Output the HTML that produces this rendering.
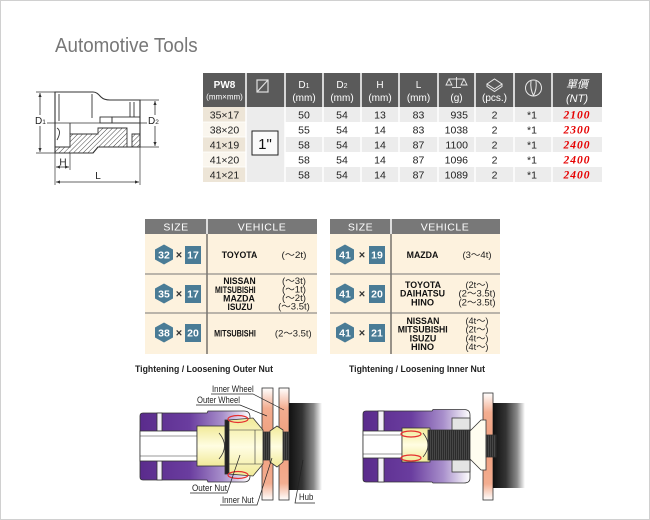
<!DOCTYPE html>
<html><head><meta charset="utf-8"><style>
html,body{margin:0;padding:0;background:#fff;}
body{width:650px;height:520px;overflow:hidden;position:relative;}
svg{position:absolute;left:0;top:0;}
text{font-family:"Liberation Sans","Noto Sans CJK JP",sans-serif;}
.hd{fill:#fff;font-size:10px;text-anchor:middle;}
.hs{fill:#fff;font-size:8px;text-anchor:middle;}
.td{fill:#222;font-size:10.5px;text-anchor:middle;}
.pr{fill:#e60000;font-family:"Liberation Serif",serif;font-weight:bold;font-style:italic;font-size:11.5px;text-anchor:middle;letter-spacing:1px;}
.vh{fill:#111;font-weight:bold;font-size:9.3px;text-anchor:middle;}
.tn{fill:#222;font-size:9px;text-anchor:middle;}
.bd{fill:#fff;font-weight:bold;font-size:10.5px;text-anchor:middle;}
.lb{fill:#222;font-size:9.5px;}
</style></head><body>
<svg width="650" height="520" viewBox="0 0 650 520" xmlns="http://www.w3.org/2000/svg">
<defs>
 <pattern id="hatch" patternUnits="userSpaceOnUse" width="3.4" height="3.4" patternTransform="rotate(45)">
  <line x1="0" y1="0" x2="0" y2="3.4" stroke="#333" stroke-width="0.9"/>
 </pattern>
 <pattern id="thr" patternUnits="userSpaceOnUse" width="2" height="4">
  <rect width="2" height="4" fill="#2b2b2b"/>
  <line x1="0.5" y1="0" x2="0.5" y2="4" stroke="#5a5a5a" stroke-width="0.6"/>
 </pattern>
 <linearGradient id="pur" x1="0" y1="0" x2="1" y2="0">
  <stop offset="0" stop-color="#5a2b8c"/><stop offset="0.45" stop-color="#6a3d9f"/>
  <stop offset="0.75" stop-color="#a88fcb"/><stop offset="1" stop-color="#ffffff"/>
 </linearGradient>
 <linearGradient id="yel" x1="0" y1="0" x2="0" y2="1">
  <stop offset="0" stop-color="#f1ea98"/><stop offset="0.5" stop-color="#fffde2"/><stop offset="1" stop-color="#f1ea98"/>
 </linearGradient>
 <linearGradient id="sal" x1="0" y1="0" x2="0" y2="1">
  <stop offset="0" stop-color="#ffffff"/><stop offset="0.18" stop-color="#f3ad90"/>
  <stop offset="0.5" stop-color="#ef9d7b"/><stop offset="0.85" stop-color="#f3ad90"/><stop offset="1" stop-color="#ffffff"/>
 </linearGradient>
 <linearGradient id="hub" x1="0" y1="0" x2="1" y2="0">
  <stop offset="0" stop-color="#111"/><stop offset="0.4" stop-color="#333"/>
  <stop offset="0.75" stop-color="#8a8a8a"/><stop offset="1" stop-color="#fff"/>
 </linearGradient>
 <marker id="ar" viewBox="0 0 10 10" refX="10" refY="5" markerWidth="5" markerHeight="5" orient="auto-start-reverse">
  <path d="M0,1 L10,5 L0,9 Z" fill="#333"/>
 </marker>
</defs>

<!-- page border -->
<rect x="0.5" y="0.5" width="649" height="519" fill="none" stroke="#d0d0d0" stroke-width="1"/>

<!-- title -->
<text x="55" y="52" font-size="20" fill="#777" transform="translate(55 0) scale(0.94 1) translate(-55 0)">Automotive Tools</text>

<!-- ===== socket drawing ===== -->
<g stroke="#333" stroke-width="0.9" fill="none">
 <path d="M55,147 L70,147 L70,134 L98,134 L98,128 L127,128 L127,147 L98,147 L93,153 L55,153 Z" fill="url(#hatch)"/>
 <path d="M132,134 L140,134 L140,147 L132,147 Z" fill="url(#hatch)"/>
 <path d="M55,92 L93,92 C97,92 99,95 101,97 C103,99 106,100 110,100 L140,100 L140,147 L98,147 L93,153 L55,153 Z" fill="none" stroke-width="1.1"/>
 <line x1="59" y1="94" x2="59" y2="121"/>
 <line x1="92" y1="94" x2="92" y2="118"/>
 <line x1="130" y1="102" x2="130" y2="117"/>
 <line x1="134" y1="102" x2="134" y2="117"/>
 <rect x="100" y="117" width="12" height="6"/>
 <rect x="112" y="117" width="28" height="6"/>
 <line x1="70" y1="123" x2="70" y2="134"/>
 <path d="M57,128 Q62,131 57,140"/>
 <line x1="46" y1="123" x2="154" y2="123" stroke-width="0.8"/>
 <!-- D1 -->
 <line x1="36" y1="92" x2="55" y2="92" stroke-width="0.7"/>
 <line x1="36" y1="153" x2="55" y2="153" stroke-width="0.7"/>
 <line x1="40" y1="93" x2="40" y2="152" stroke-width="0.8" marker-start="url(#ar)" marker-end="url(#ar)"/>
 <!-- D2 -->
 <line x1="140" y1="100" x2="159" y2="100" stroke-width="0.7"/>
 <line x1="140" y1="147" x2="159" y2="147" stroke-width="0.7"/>
 <line x1="155" y1="101" x2="155" y2="146" stroke-width="0.8" marker-start="url(#ar)" marker-end="url(#ar)"/>
 <!-- H, L -->
 <line x1="55" y1="153" x2="55" y2="185" stroke-width="0.7"/>
 <line x1="70" y1="153" x2="70" y2="170" stroke-width="0.7"/>
 <line x1="140" y1="147" x2="140" y2="185" stroke-width="0.7"/>
 <line x1="56" y1="167" x2="69" y2="167" stroke-width="0.8" marker-start="url(#ar)" marker-end="url(#ar)"/>
 <line x1="56" y1="182" x2="139" y2="182" stroke-width="0.8" marker-start="url(#ar)" marker-end="url(#ar)"/>
</g>
<rect x="34" y="115" width="13" height="11" fill="#fff"/>
<text x="35" y="124" font-size="10" fill="#222">D<tspan font-size="6.5">1</tspan></text>
<rect x="147" y="115" width="13" height="11" fill="#fff"/>
<text x="148" y="124" font-size="10" fill="#222">D<tspan font-size="6.5">2</tspan></text>
<text x="63" y="165.5" font-size="10" fill="#222" text-anchor="middle">H</text>
<text x="98" y="179" font-size="10" fill="#222" text-anchor="middle">L</text>

<!-- ===== top table ===== -->
<rect x="203" y="73" width="399" height="34" fill="#5a5a5a"/>
<rect x="203" y="107" width="399" height="15" fill="#ececec"/>
<rect x="203" y="137" width="399" height="15" fill="#ececec"/>
<rect x="203" y="167" width="399" height="15" fill="#ececec"/>
<rect x="203" y="107" width="43" height="15" fill="#ede5d7"/>
<rect x="203" y="122" width="43" height="15" fill="#faf6ee"/>
<rect x="203" y="137" width="43" height="15" fill="#ede5d7"/>
<rect x="203" y="152" width="43" height="15" fill="#faf6ee"/>
<rect x="203" y="167" width="43" height="15" fill="#ede5d7"/>
<rect x="246" y="107" width="39" height="75" fill="#ececec"/>
<g stroke="#fff" stroke-width="1.5">
 <line x1="246" y1="73" x2="246" y2="182"/><line x1="285" y1="73" x2="285" y2="182"/>
 <line x1="323" y1="73" x2="323" y2="182"/><line x1="361" y1="73" x2="361" y2="182"/>
 <line x1="399" y1="73" x2="399" y2="182"/><line x1="438" y1="73" x2="438" y2="182"/>
 <line x1="475" y1="73" x2="475" y2="182"/><line x1="514" y1="73" x2="514" y2="182"/>
 <line x1="552" y1="73" x2="552" y2="182"/>
</g>
<g stroke="#fff" stroke-width="0.8">
 <line x1="203" y1="122" x2="246" y2="122"/><line x1="203" y1="137" x2="246" y2="137"/>
 <line x1="203" y1="152" x2="246" y2="152"/><line x1="203" y1="167" x2="246" y2="167"/>
</g>
<!-- header -->
<text class="hd" x="224.5" y="88" font-weight="bold">PW8</text>
<text class="hs" x="224.5" y="99.5">(mm×mm)</text>
<g fill="none" stroke="#e0e0e0" stroke-width="1.2">
 <rect x="257" y="80" width="11" height="12"/>
 <line x1="257" y1="92" x2="268" y2="80"/>
</g>
<text class="hd" x="304" y="88">D<tspan font-size="7">1</tspan></text><text class="hd" x="304" y="101">(mm)</text>
<text class="hd" x="342" y="88">D<tspan font-size="7">2</tspan></text><text class="hd" x="342" y="101">(mm)</text>
<text class="hd" x="380" y="88">H</text><text class="hd" x="380" y="101">(mm)</text>
<text class="hd" x="418.5" y="88">L</text><text class="hd" x="418.5" y="101">(mm)</text>
<g fill="none" stroke="#e8e8e8" stroke-width="0.9">
 <line x1="449" y1="79" x2="464" y2="79"/><line x1="456.5" y1="77" x2="456.5" y2="87"/>
 <line x1="452" y1="87.5" x2="461" y2="87.5"/>
 <path d="M449,79 L446,85 L452,85 Z"/><path d="M464,79 L461,85 L467,85 Z"/>
</g>
<text class="hd" x="456.5" y="101">(g)</text>
<g fill="none" stroke="#e8e8e8" stroke-width="1">
 <path d="M487,84 L494.5,79 L502,84 L494.5,89 Z"/>
 <path d="M487,84 L487,86.5 L494.5,91.5 L502,86.5 L502,84"/>
</g>
<text class="hd" x="494.5" y="101">(pcs.)</text>
<g fill="none" stroke="#e8e8e8" stroke-width="1">
 <circle cx="533.5" cy="88" r="8"/>
 <path d="M531,81 Q530,89 533.5,95.5 Q537,89 536,81"/>
</g>
<text x="577" y="88" fill="#fff" font-size="11" text-anchor="middle" font-style="italic" font-family="'Liberation Serif','Noto Serif CJK SC',serif">單價</text>
<text x="577" y="102" fill="#fff" font-size="11" text-anchor="middle" font-style="italic" font-family="'Liberation Serif',serif">(NT)</text>
<!-- body -->
<rect x="252" y="131" width="26" height="24" fill="#fafafa" stroke="#222" stroke-width="1"/>
<text x="265" y="149" font-size="15" fill="#111" text-anchor="middle">1"</text>

<text class="td" x="224.5" y="118.5">35×17</text>
<text class="td" x="224.5" y="133.5">38×20</text>
<text class="td" x="224.5" y="148.5">41×19</text>
<text class="td" x="224.5" y="163.5">41×20</text>
<text class="td" x="224.5" y="178.5">41×21</text>

<text class="td" x="304" y="118.5">50</text><text class="td" x="342" y="118.5">54</text><text class="td" x="380" y="118.5">13</text><text class="td" x="418.5" y="118.5">83</text>
<text class="td" x="304" y="133.5">55</text><text class="td" x="342" y="133.5">54</text><text class="td" x="380" y="133.5">14</text><text class="td" x="418.5" y="133.5">83</text>
<text class="td" x="304" y="148.5">58</text><text class="td" x="342" y="148.5">54</text><text class="td" x="380" y="148.5">14</text><text class="td" x="418.5" y="148.5">87</text>
<text class="td" x="304" y="163.5">58</text><text class="td" x="342" y="163.5">54</text><text class="td" x="380" y="163.5">14</text><text class="td" x="418.5" y="163.5">87</text>
<text class="td" x="304" y="178.5">58</text><text class="td" x="342" y="178.5">54</text><text class="td" x="380" y="178.5">14</text><text class="td" x="418.5" y="178.5">87</text>

<text class="td" x="468" y="118.5" style="text-anchor:end">935</text>
<text class="td" x="468" y="133.5" style="text-anchor:end">1038</text>
<text class="td" x="468" y="148.5" style="text-anchor:end">1100</text>
<text class="td" x="468" y="163.5" style="text-anchor:end">1096</text>
<text class="td" x="468" y="178.5" style="text-anchor:end">1089</text>
<text class="td" x="494.5" y="118.5">2</text><text class="td" x="494.5" y="133.5">2</text><text class="td" x="494.5" y="148.5">2</text><text class="td" x="494.5" y="163.5">2</text><text class="td" x="494.5" y="178.5">2</text>
<text class="td" x="532" y="118.5">*1</text><text class="td" x="532" y="133.5">*1</text><text class="td" x="532" y="148.5">*1</text><text class="td" x="532" y="163.5">*1</text><text class="td" x="532" y="178.5">*1</text>
<text class="pr" x="577" y="118.5">2100</text>
<text class="pr" x="577" y="133.5">2300</text>
<text class="pr" x="577" y="148.5">2400</text>
<text class="pr" x="577" y="163.5">2400</text>
<text class="pr" x="577" y="178.5">2400</text>

<!-- ===== size tables ===== -->
<rect x="145" y="219" width="172" height="15" fill="#787878"/>
<rect x="145" y="234" width="172" height="120" fill="#fdf2de"/>
<line x1="207" y1="219" x2="207" y2="234" stroke="#fff" stroke-width="1.5"/>
<line x1="207" y1="234" x2="207" y2="354" stroke="#333" stroke-width="1"/>
<line x1="145" y1="274" x2="317" y2="274" stroke="#777" stroke-width="1"/>
<line x1="145" y1="313" x2="317" y2="313" stroke="#777" stroke-width="1"/>
<text x="176" y="230.5" fill="#fff" font-size="10.5" text-anchor="middle" letter-spacing="0.5">SIZE</text>
<text x="262" y="230.5" fill="#fff" font-size="10.5" text-anchor="middle" letter-spacing="0.5">VEHICLE</text>

<rect x="330" y="219" width="170" height="15" fill="#787878"/>
<rect x="330" y="234" width="170" height="120" fill="#fdf2de"/>
<line x1="391" y1="219" x2="391" y2="234" stroke="#fff" stroke-width="1.5"/>
<line x1="391" y1="234" x2="391" y2="354" stroke="#333" stroke-width="1"/>
<line x1="330" y1="274" x2="500" y2="274" stroke="#777" stroke-width="1"/>
<line x1="330" y1="313" x2="500" y2="313" stroke="#777" stroke-width="1"/>
<text x="360.5" y="230.5" fill="#fff" font-size="10.5" text-anchor="middle" letter-spacing="0.5">SIZE</text>
<text x="445" y="230.5" fill="#fff" font-size="10.5" text-anchor="middle" letter-spacing="0.5">VEHICLE</text>

<!-- badges -->
<g fill="#4a7c96">
 <polygon points="164,244.5 173,249.5 173,259.5 164,264.5 155,259.5 155,249.5"/>
 <rect x="185" y="246" width="16" height="18"/>
 <polygon points="164,283.5 173,288.5 173,298.5 164,303.5 155,298.5 155,288.5"/>
 <rect x="185" y="285" width="16" height="18"/>
 <polygon points="164,322.5 173,327.5 173,337.5 164,342.5 155,337.5 155,327.5"/>
 <rect x="185" y="324" width="16" height="18"/>
 <polygon points="345,244.5 354,249.5 354,259.5 345,264.5 336,259.5 336,249.5"/>
 <rect x="369" y="246" width="16" height="18"/>
 <polygon points="345,283.5 354,288.5 354,298.5 345,303.5 336,298.5 336,288.5"/>
 <rect x="369" y="285" width="16" height="18"/>
 <polygon points="345,322.5 354,327.5 354,337.5 345,342.5 336,337.5 336,327.5"/>
 <rect x="369" y="324" width="16" height="18"/>
</g>
<text class="bd" x="164" y="258.5">32</text><text class="bd" x="193" y="258.5">17</text>
<text class="bd" x="164" y="297.5">35</text><text class="bd" x="193" y="297.5">17</text>
<text class="bd" x="164" y="336.5">38</text><text class="bd" x="193" y="336.5">20</text>
<text class="bd" x="345" y="258.5">41</text><text class="bd" x="377" y="258.5">19</text>
<text class="bd" x="345" y="297.5">41</text><text class="bd" x="377" y="297.5">20</text>
<text class="bd" x="345" y="336.5">41</text><text class="bd" x="377" y="336.5">21</text>
<g fill="#333" font-size="11" font-weight="bold" text-anchor="middle">
 <text x="179" y="258.5">×</text><text x="179" y="297.5">×</text><text x="179" y="336.5">×</text>
 <text x="362" y="258.5">×</text><text x="362" y="297.5">×</text><text x="362" y="336.5">×</text>
</g>

<!-- vehicles left -->
<text class="vh" x="239.5" y="258" textLength="35.6" lengthAdjust="spacingAndGlyphs">TOYOTA</text>
<text class="tn" x="294" y="258" textLength="25" lengthAdjust="spacingAndGlyphs">(～2t)</text>
<text class="vh" x="239.5" y="284" textLength="32.3" lengthAdjust="spacingAndGlyphs">NISSAN</text>
<text class="vh" x="235.3" y="293" textLength="40.7" lengthAdjust="spacingAndGlyphs">MITSUBISHI</text>
<text class="vh" x="239" y="301.5" textLength="31.7" lengthAdjust="spacingAndGlyphs">MAZDA</text>
<text class="vh" x="240" y="310" textLength="25" lengthAdjust="spacingAndGlyphs">ISUZU</text>
<text class="tn" x="294" y="284" textLength="24" lengthAdjust="spacingAndGlyphs">(～3t)</text>
<text class="tn" x="294" y="292.5" textLength="24" lengthAdjust="spacingAndGlyphs">(～1t)</text>
<text class="tn" x="294" y="301" textLength="24" lengthAdjust="spacingAndGlyphs">(～2t)</text>
<text class="tn" x="294" y="309.5" textLength="31.7" lengthAdjust="spacingAndGlyphs">(～3.5t)</text>
<text class="vh" x="235" y="336.5" textLength="41.7" lengthAdjust="spacingAndGlyphs">MITSUBISHI</text>
<text class="tn" x="293.3" y="336.5" textLength="36.7" lengthAdjust="spacingAndGlyphs">(2～3.5t)</text>

<!-- vehicles right -->
<text class="vh" x="422.5" y="258" textLength="31.7" lengthAdjust="spacingAndGlyphs">MAZDA</text>
<text class="tn" x="477" y="258" textLength="29" lengthAdjust="spacingAndGlyphs">(3～4t)</text>
<text class="vh" x="423" y="288" textLength="36" lengthAdjust="spacingAndGlyphs">TOYOTA</text>
<text class="vh" x="422.5" y="296.5" textLength="45" lengthAdjust="spacingAndGlyphs">DAIHATSU</text>
<text class="vh" x="422.5" y="305.5" textLength="23" lengthAdjust="spacingAndGlyphs">HINO</text>
<text class="tn" x="477" y="288" textLength="23" lengthAdjust="spacingAndGlyphs">(2t～)</text>
<text class="tn" x="477" y="296.5" textLength="37" lengthAdjust="spacingAndGlyphs">(2～3.5t)</text>
<text class="tn" x="477" y="305.5" textLength="37" lengthAdjust="spacingAndGlyphs">(2～3.5t)</text>
<text class="vh" x="423" y="324" textLength="33" lengthAdjust="spacingAndGlyphs">NISSAN</text>
<text class="vh" x="422.7" y="332.5" textLength="50" lengthAdjust="spacingAndGlyphs">MITSUBISHI</text>
<text class="vh" x="423" y="341.5" textLength="26.7" lengthAdjust="spacingAndGlyphs">ISUZU</text>
<text class="vh" x="422.5" y="350" textLength="23" lengthAdjust="spacingAndGlyphs">HINO</text>
<text class="tn" x="477" y="324" textLength="23" lengthAdjust="spacingAndGlyphs">(4t～)</text>
<text class="tn" x="477" y="332.5" textLength="23" lengthAdjust="spacingAndGlyphs">(2t～)</text>
<text class="tn" x="477" y="341.5" textLength="23" lengthAdjust="spacingAndGlyphs">(4t～)</text>
<text class="tn" x="477" y="350" textLength="23" lengthAdjust="spacingAndGlyphs">(4t～)</text>

<!-- captions -->
<text x="135" y="372" font-size="9.5" font-weight="bold" fill="#222" textLength="138" lengthAdjust="spacingAndGlyphs">Tightening / Loosening Outer Nut</text>
<text x="349" y="372" font-size="9.5" font-weight="bold" fill="#222" textLength="136" lengthAdjust="spacingAndGlyphs">Tightening / Loosening Inner Nut</text>

<!-- ===== left illustration ===== -->
<g stroke="#333" stroke-width="0.8">
 <rect x="262" y="388" width="11" height="112" fill="url(#sal)"/>
 <rect x="279" y="388" width="10" height="112" fill="url(#sal)"/>
 <rect x="289" y="403" width="33" height="87" fill="url(#hub)" stroke="none"/>
 <path d="M143,413 L207,413 L208,411 L244,411 Q250,411 250,417 L250,476 Q250,482 244,482 L208,482 L207,480 L143,480 Q140,480 140,477 L140,416 Q140,413 143,413 Z" fill="url(#pur)"/>
 <rect x="157" y="413" width="5" height="18" fill="#f4f0f8"/>
 <rect x="157" y="461" width="5" height="19" fill="#f4f0f8"/>
 <rect x="140" y="431" width="57" height="30" fill="#fff"/>
 <line x1="140" y1="436" x2="197" y2="436" stroke-width="0.5"/>
 <line x1="140" y1="456" x2="197" y2="456" stroke-width="0.5"/>
 <rect x="197" y="426" width="30" height="40" fill="url(#yel)"/>
 <path d="M219,433 Q230,446 219,459" fill="none"/>
 <rect x="262" y="432" width="27" height="28" fill="url(#thr)"/>
 <rect x="225" y="420" width="4" height="54" fill="#222"/>
 <path d="M229,420 L253,418 L263,430 L263,464 L253,476 L229,474 Z" fill="url(#yel)"/>
 <line x1="229" y1="430" x2="263" y2="430" stroke-width="0.6"/>
 <line x1="229" y1="464" x2="263" y2="464" stroke-width="0.6"/>
 <line x1="255" y1="430" x2="255" y2="464" stroke-width="0.6"/>
 <path d="M270,431 L277,426 L283,430 L283,462 L277,467 L270,462 Z" fill="url(#yel)"/>
</g>
<g fill="none" stroke="#e53030" stroke-width="1.2">
 <ellipse cx="238" cy="419" rx="10" ry="3.5"/>
 <ellipse cx="238" cy="475" rx="10" ry="3.5"/>
</g>
<g stroke="#222" stroke-width="0.7" fill="none">
 <path d="M211,394 L253,394 L284,410"/>
 <path d="M196,405 L240,405 L267,416"/>
 <path d="M190,493 L227,493 L240,455"/>
 <path d="M220,505 L257,505 L272,458"/>
 <path d="M315,503 L295,503 L303,460"/>
</g>
<text class="lb" x="212" y="392" textLength="41.7" lengthAdjust="spacingAndGlyphs">Inner Wheel</text>
<text class="lb" x="197" y="403" textLength="43" lengthAdjust="spacingAndGlyphs">Outer Wheel</text>
<text class="lb" x="192" y="491" textLength="35" lengthAdjust="spacingAndGlyphs">Outer Nut</text>
<text class="lb" x="222" y="503" textLength="31.7" lengthAdjust="spacingAndGlyphs">Inner Nut</text>
<text class="lb" x="299" y="500" textLength="14.3" lengthAdjust="spacingAndGlyphs">Hub</text>

<!-- ===== right illustration ===== -->
<g stroke="#333" stroke-width="0.8">
 <rect x="483" y="393" width="10" height="107" fill="url(#sal)"/>
 <rect x="493" y="403" width="32" height="85" fill="url(#hub)" stroke="none"/>
 <path d="M366,411 L432,411 L433,409.5 L464,409.5 Q470,409.5 470,415 L470,478 Q470,483 464,483 L433,483 L432,482 L366,482 Q363,482 363,479 L363,414 Q363,411 366,411 Z" fill="url(#pur)"/>
 <rect x="378" y="411" width="6" height="20" fill="#f4f0f8"/>
 <rect x="378" y="458" width="6" height="24" fill="#f4f0f8"/>
 <rect x="363" y="431" width="39" height="27" fill="#fff"/>
 <line x1="363" y1="435" x2="402" y2="435" stroke-width="0.5"/>
 <line x1="363" y1="454" x2="402" y2="454" stroke-width="0.5"/>
 <rect x="402" y="428" width="28" height="34" fill="url(#yel)"/>
 <path d="M423,433 Q433,445 423,457" fill="none"/>
 <rect x="428" y="430" width="44" height="30" fill="url(#thr)"/>
 <rect x="452" y="418" width="18" height="12" fill="#e4e4e4"/>
 <rect x="452" y="460" width="18" height="12" fill="#e4e4e4"/>
 <path d="M470,431 L481,420 L486,420 L486,470 L481,470 L470,459 Z" fill="#fffdf0"/>
 <rect x="486" y="435" width="10" height="22" fill="url(#thr)"/>
</g>
<g fill="none" stroke="#e53030" stroke-width="1.2">
 <ellipse cx="411" cy="434" rx="10" ry="3"/>
 <ellipse cx="411" cy="458" rx="10" ry="3"/>
</g>
</svg>
</body></html>
